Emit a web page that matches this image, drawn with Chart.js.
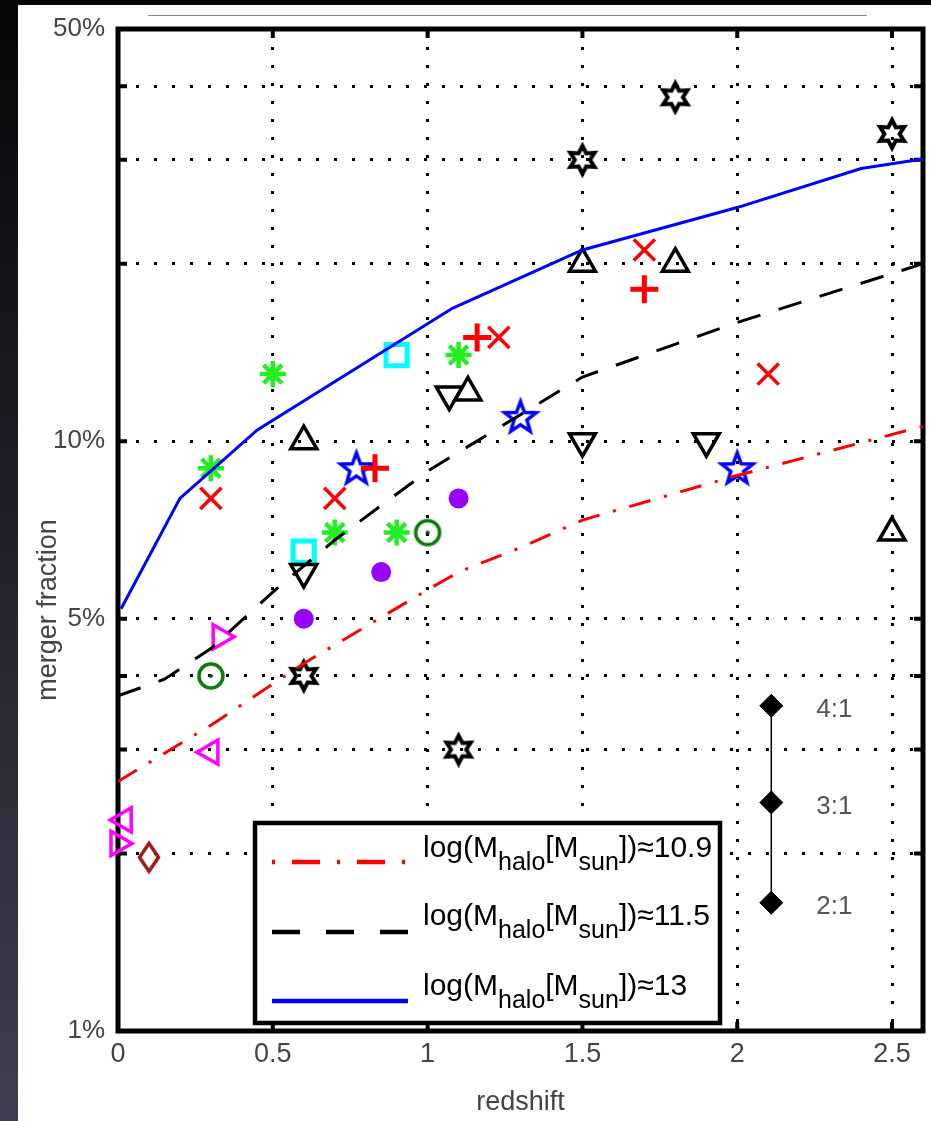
<!DOCTYPE html>
<html>
<head>
<meta charset="utf-8">
<script src="https://cdn.jsdelivr.net/npm/chart.js@4.4.1/dist/chart.umd.min.js"></script>
<style>
  html, body { margin: 0; padding: 0; }
  body { width: 931px; height: 1121px; overflow: hidden; position: relative;
         background: linear-gradient(to bottom, #060607, #403e50); }
  #panel { position: absolute; left: 18px; top: 5px; width: 913px; height: 1116px; background: #fff; }
  #topline { position: absolute; left: 148px; top: 15px; width: 719px; height: 0; border-top: 1px solid #8a8a8a; }
  canvas { display: block; }
</style>
</head>
<body>
<div id="panel"><canvas id="chart" width="913" height="1116"></canvas></div>
<div id="topline"></div>
<script>
// model curves: redshift vs merger fraction (%)
const z109 = [0, 0.3, 0.6, 1.0, 1.1, 1.3, 1.5, 2.0, 2.6]
const f109 = [2.65, 3.3, 4.2, 5.6, 6.0, 6.6, 7.35, 8.75, 10.6]
const z115 = [0, 0.15, 0.3, 0.5, 0.7, 1.0, 1.5, 2.0, 2.6]
const f115 = [3.7, 3.95, 4.45, 5.55, 6.8, 8.9, 12.85, 15.9, 20.0]
const z13 = [0.01, 0.2, 0.45, 1.08, 1.5, 2.0, 2.4, 2.6]
const f13 = [5.2, 8.0, 10.45, 16.8, 21.1, 24.9, 29.0, 30.1]
const legendValues = ['10.9', '11.5', '13']

// observed merger fractions
const hexZ = [1.5, 1.8, 2.5, 0.6, 1.1]
const hexF = [30, 38.3, 33.2, 4.0, 3.0]
const upZ = [1.5, 1.8, 0.6, 1.13, 2.5]
const upF = [20, 20, 10, 12.1, 7.0]
const downZ = [1.07, 1.5, 1.9, 0.6]
const downF = [12.0, 10, 10, 6.0]
const crossZ = [0.3, 0.7, 1.7, 1.23, 2.1]
const crossF = [8, 8, 21.1, 15, 13]
const plusZ = [0.83, 1.16, 1.7]
const plusF = [9, 15, 18.1]
const astZ = [0.5, 0.3, 0.7, 0.9, 1.1]
const astF = [13, 9, 7, 7, 14]
const squareZ = [0.9, 0.6]
const squareF = [14, 6.5]
const pentZ = [0.77, 1.3, 2.0]
const pentF = [9, 11, 9]
const dotZ = [1.1, 0.85, 0.6]
const dotF = [8, 6, 5]
const ringZ = [1.0, 0.3]
const ringF = [7, 4]
const rightZ = [0.33, 0]
const rightF = [4.66, 2.08]
const leftZ = [0.3, 0.02]
const leftF = [2.97, 2.28]
const diamZ = [0.1]
const diamF = [1.97]
// mass ratio scale
const ratioZ = [2.11, 2.11, 2.11]
const ratioF = [3.56, 2.44, 1.65]
const ratioLabels = ['4:1', '3:1', '2:1']

// axes
const xGrid = [0, 0.5, 1, 1.5, 2, 2.5]
const yGrid = [1, 2, 3, 4, 5, 10, 20, 30, 40, 50]
const yLabeled = [1, 5, 10, 50]

const FONT = "'Liberation Sans', Arial, sans-serif"
const pts = (zs, fs) => zs.map((z, i) => ({x: z, y: fs[i]}))

function makeMarker(w, h, draw) {
    const c = document.createElement('canvas')
    c.width = w; c.height = h
    draw(c.getContext('2d'), w / 2, h / 2)
    return c
}
function starPath(g, cx, cy, n, ro, ri) {
    g.beginPath()
    for (let i = 0; i < 2 * n; i++) {
        const r = i % 2 ? ri : ro
        const a = -Math.PI / 2 + i * Math.PI / n
        const px = cx + r * Math.cos(a), py = cy + r * Math.sin(a)
        if (i) g.lineTo(px, py); else g.moveTo(px, py)
    }
    g.closePath()
}
const hexagram = makeMarker(36, 36, (g, cx, cy) => {
    starPath(g, cx, cy, 6, 14, 7.6)
    g.lineWidth = 4; g.strokeStyle = '#000'; g.stroke()
})
const pentagram = makeMarker(42, 42, (g, cx, cy) => {
    starPath(g, cx, cy + 1, 5, 16.5, 6.8)
    g.lineWidth = 3.5; g.strokeStyle = '#0000ff'; g.stroke()
})
const ring = makeMarker(36, 36, (g, cx, cy) => {
    g.beginPath(); g.arc(cx, cy, 12, 0, Math.PI * 2)
    g.lineWidth = 3.5; g.strokeStyle = '#0b7a0b'; g.stroke()
    g.beginPath(); g.arc(cx, cy, 2, 0, Math.PI * 2)
    g.fillStyle = '#0a4a0a'; g.fill()
})
const tallDiamond = makeMarker(28, 38, (g, cx, cy) => {
    g.beginPath()
    g.moveTo(cx, cy - 14); g.lineTo(cx + 9.5, cy); g.lineTo(cx, cy + 14); g.lineTo(cx - 9.5, cy)
    g.closePath()
    g.lineWidth = 3.5; g.strokeStyle = '#a3161a'; g.stroke()
})

const none = 'rgba(0,0,0,0)'
function markers(data, style, color, extra) {
    return Object.assign({
        data: data, showLine: false, clip: false,
        pointStyle: style, pointRadius: 12, pointBorderWidth: 3.5,
        pointBorderColor: color, pointBackgroundColor: none
    }, extra || {})
}
function curve(data, color, dash) {
    return {data: data, showLine: true, borderColor: color, borderWidth: 3,
            borderDash: dash, pointRadius: 0, tension: 0, borderCapStyle: 'butt'}
}
function noEdgePadding(s) {
    s.paddingLeft = 0; s.paddingRight = 0; s.paddingTop = 0; s.paddingBottom = 0
}

const framePlugin = {
    id: 'frame',
    beforeDatasetsDraw(chart) {
        const {ctx, chartArea: a, scales: {x, y}} = chart
        ctx.save()
        ctx.strokeStyle = '#000'
        ctx.lineWidth = 4
        ctx.beginPath()
        xGrid.forEach(v => {
            const px = x.getPixelForValue(v)
            ctx.moveTo(px, a.top); ctx.lineTo(px, a.top + 9)
            ctx.moveTo(px, a.bottom); ctx.lineTo(px, a.bottom - 9)
        })
        yGrid.forEach(v => {
            const py = y.getPixelForValue(v)
            ctx.moveTo(a.left, py); ctx.lineTo(a.left + 9, py)
            ctx.moveTo(a.right, py); ctx.lineTo(a.right - 9, py)
        })
        ctx.stroke()
        ctx.lineWidth = 5
        ctx.strokeRect(a.left, a.top, a.right - a.left, a.bottom - a.top)
        ctx.restore()
    },
    afterDraw(chart) {
        const {ctx, chartArea: a, scales: {x, y}} = chart
        ctx.save()
        // y title
        ctx.fillStyle = '#444'
        ctx.font = '27px ' + FONT
        ctx.textAlign = 'center'
        ctx.textBaseline = 'middle'
        ctx.translate(31, 605)
        ctx.rotate(-Math.PI / 2)
        ctx.fillText('merger fraction', 0, 0)
        ctx.setTransform(1, 0, 0, 1, 0, 0)

        // ratio labels
        ctx.font = '26px ' + FONT
        ctx.fillStyle = '#555'
        ctx.textAlign = 'left'
        ratioLabels.forEach((t, i) => {
            ctx.fillText(t, x.getPixelForValue(ratioZ[i]) + 45, y.getPixelForValue(ratioF[i]) + 4)
        })

        // legend box
        const lx = a.left + 137, ly = a.top + 794, lw = 465, lh = 200
        ctx.fillStyle = '#fff'
        ctx.fillRect(lx, ly, lw, lh)
        ctx.lineWidth = 4.5
        ctx.strokeStyle = '#000'
        ctx.strokeRect(lx, ly, lw, lh)
        const rows = [
            {color: '#ff0000', dash: [3, 17, 28, 17], ly: 39, ty: 34},
            {color: '#000000', dash: [28, 26], ly: 109, ty: 102},
            {color: '#0000ff', dash: [], ly: 178, ty: 172},
        ]
        rows.forEach((r, i) => {
            ctx.beginPath()
            ctx.setLineDash(r.dash)
            ctx.lineCap = 'butt'
            ctx.strokeStyle = r.color
            ctx.lineWidth = 4.5
            ctx.moveTo(lx + 17, ly + r.ly); ctx.lineTo(lx + 153, ly + r.ly)
            ctx.stroke()
            ctx.setLineDash([])
            const parts = [['log(M', 30, 0], ['halo', 25, 13], ['[M', 30, 0], ['sun', 25, 13], ['])\u2248' + legendValues[i], 30, 0]]
            let tx = lx + 168
            ctx.fillStyle = '#000'
            ctx.textBaseline = 'alphabetic'
            parts.forEach(p => {
                ctx.font = p[1] + 'px ' + FONT
                ctx.fillText(p[0], tx, ly + r.ty + p[2])
                tx += ctx.measureText(p[0]).width
            })
        })
        ctx.restore()
    }
}

new Chart(document.getElementById('chart'), {
    type: 'scatter',
    data: {
        datasets: [
            curve(pts(z109, f109), '#ff0000', [22, 14, 3, 14]),
            curve(pts(z115, f115), '#000000', [24, 19]),
            curve(pts(z13, f13), '#0000ff', []),
            markers(pts(hexZ, hexF), hexagram, '#000'),
            markers(pts(upZ, upF), 'triangle', '#000', {pointRadius: 15}),
            markers(pts(downZ, downF), 'triangle', '#000', {pointRadius: 15, pointRotation: 180}),
            markers(pts(crossZ, crossF), 'crossRot', '#ff0000', {pointRadius: 15}),
            markers(pts(plusZ, plusF), 'cross', '#ff0000', {pointRadius: 14, pointBorderWidth: 5}),
            markers(pts(astZ, astF), 'star', '#22ee22', {pointRadius: 13, pointBorderWidth: 4.5}),
            markers(pts(squareZ, squareF), 'rect', '#00ffff', {pointRadius: 15, pointBorderWidth: 5}),
            markers(pts(pentZ, pentF), pentagram, '#0000ff'),
            markers(pts(dotZ, dotF), 'circle', '#9900ff', {pointRadius: 10, pointBorderWidth: 0, pointBackgroundColor: '#9900ff'}),
            markers(pts(ringZ, ringF), ring, '#0b7a0b'),
            markers(pts(rightZ, rightF), 'triangle', '#ff00ff', {pointRadius: 14, pointRotation: 90}),
            markers(pts(leftZ, leftF), 'triangle', '#ff00ff', {pointRadius: 14, pointRotation: 270}),
            markers(pts(diamZ, diamF), tallDiamond, '#a3161a'),
            {
                data: pts(ratioZ, ratioF), showLine: true, borderColor: '#000', borderWidth: 1.5,
                pointStyle: 'rectRot', pointRadius: 11.5, pointBorderWidth: 1,
                pointBorderColor: '#000', pointBackgroundColor: '#000'
            },
        ]
    },
    options: {
        responsive: false,
        animation: false,
        events: [],
        layout: {autoPadding: false, padding: {left: 0, top: 24, right: 8, bottom: 0}},
        plugins: {legend: {display: false}, tooltip: {enabled: false}},
        scales: {
            x: {
                type: 'linear', min: 0, max: 2.6,
                afterBuildTicks: s => { s.ticks = xGrid.map(v => ({value: v})) },
                afterFit: s => { s.height = 90; noEdgePadding(s) },
                grid: {color: '#000', lineWidth: 3, drawTicks: false},
                border: {display: false, dash: [3, 15]},
                ticks: {
                    autoSkip: false, maxRotation: 0, padding: 7, color: '#444',
                    font: {family: FONT, size: 27},
                    callback: v => String(v)
                },
                title: {display: true, text: 'redshift', color: '#444',
                        font: {family: FONT, size: 27}, padding: {top: 0, bottom: 2}}
            },
            y: {
                type: 'logarithmic', min: 1, max: 50,
                afterBuildTicks: s => { s.ticks = yGrid.map(v => ({value: v})) },
                afterFit: s => { s.width = 100; noEdgePadding(s) },
                grid: {color: '#000', lineWidth: 3, drawTicks: false},
                border: {display: false, dash: [3, 15]},
                ticks: {
                    autoSkip: false, padding: 13, color: '#444',
                    font: {family: FONT, size: 26},
                    callback: v => yLabeled.includes(v) ? v + '%' : ''
                }
            }
        }
    },
    plugins: [framePlugin]
});
</script>
</body>
</html>
